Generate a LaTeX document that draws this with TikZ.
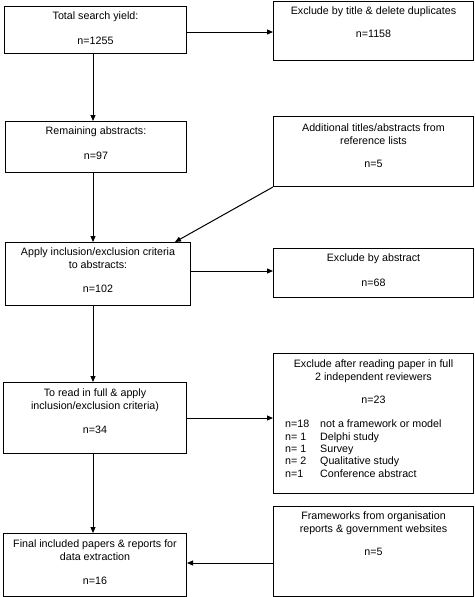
\documentclass[tikz,border=0pt]{standalone}
\usepackage{fontspec}
\setmainfont{Liberation Sans}
\usetikzlibrary{arrows.meta}
\begin{document}
\begin{tikzpicture}[x=1pt,y=-1pt,
  box/.style={draw=black,line width=1pt,inner sep=0pt},
  txt/.style={inner sep=0pt,align=center,font=\fontsize{10.7}{12.3}\selectfont,anchor=north},
  lst/.style={inner sep=0pt,align=left,font=\fontsize{10.7}{12.3}\selectfont,anchor=north west},
  arr/.style={line width=1pt,-{Triangle[length=6pt,width=5pt]}}]
\useasboundingbox (0,0) rectangle (474,597);
\newcommand{\mybox}[5]{\node[box,minimum width=#4-#2,minimum height=#5-#3,anchor=north west] (#1) at (#2,#3) {};}
\mybox{A}{4}{6}{186}{53}
\mybox{B}{273}{1}{473}{60}
\mybox{C}{5}{121}{186}{172}
\mybox{D}{273}{116}{473}{186}
\mybox{E}{5}{242}{190}{305}
\mybox{F}{273}{248}{473}{297}
\mybox{G}{3}{382}{186}{453}
\mybox{H}{273}{353}{473}{493}
\mybox{I}{3}{533}{186}{596}
\mybox{J}{273}{506}{473}{596}
\node[txt] (tA) at ([yshift=-6pt]A.north) {Total search yield:\\[12pt]n=1255};
\node[txt] (tB) at ([yshift=-6pt]B.north) {Exclude by title \& delete duplicates\\[10pt]n=1158};
\node[txt] (tC) at ([yshift=-6pt]C.north) {Remaining abstracts:\\[12pt]n=97};
\node[txt] (tD) at ([yshift=-8pt]D.north) {Additional titles/abstracts from\\reference lists\\[11pt]n=5};
\node[txt] (tE) at ([yshift=-6pt]E.north) {Apply inclusion/exclusion criteria\\to abstracts:\\[12pt]n=102};
\node[txt] (tF) at ([yshift=-6pt]F.north) {Exclude by abstract\\[12pt]n=68};
\node[txt] (tG) at ([yshift=-7pt]G.north) {To read in full \& apply\\inclusion/exclusion criteria)\\[12pt]n=34};
\node[txt] (tH) at ([yshift=-7pt]H.north) {Exclude after reading paper in full\\2 independent reviewers\\[11pt]n=23};
\node[lst] (lH) at (285,420) {\makebox[35pt][l]{n=18}not a framework or model\\\makebox[35pt][l]{n= 1}Delphi study\\\makebox[35pt][l]{n= 1}Survey\\\makebox[35pt][l]{n= 2}Qualitative study\\\makebox[35pt][l]{n=1}Conference abstract};
\node[txt] (tI) at ([yshift=-7pt]I.north) {Final included papers \& reports for\\data extraction\\[12pt]n=16};
\node[txt] (tJ) at ([yshift=-6pt]J.north) {Frameworks from organisation\\reports \& government websites\\[11pt]n=5};
\coordinate (vx) at (93,0);
\coordinate (y1) at (0,32);
\coordinate (y2) at (0,271);
\coordinate (y3) at (0,418);
\coordinate (y4) at (0,563);
\coordinate (dE) at (175,0);
\draw[arr] (A.south -| vx) -- (C.north -| vx);
\draw[arr] (C.south -| vx) -- (E.north -| vx);
\draw[arr] (E.south -| vx) -- (G.north -| vx);
\draw[arr] (G.south -| vx) -- (I.north -| vx);
\draw[arr] (A.east |- y1) -- (B.west |- y1);
\draw[arr] (E.east |- y2) -- (F.west |- y2);
\draw[arr] (G.east |- y3) -- (H.west |- y3);
\draw[arr] (J.west |- y4) -- (I.east |- y4);
\draw[arr] (D.south west) -- (E.north -| dE);
\end{tikzpicture}
\end{document}
